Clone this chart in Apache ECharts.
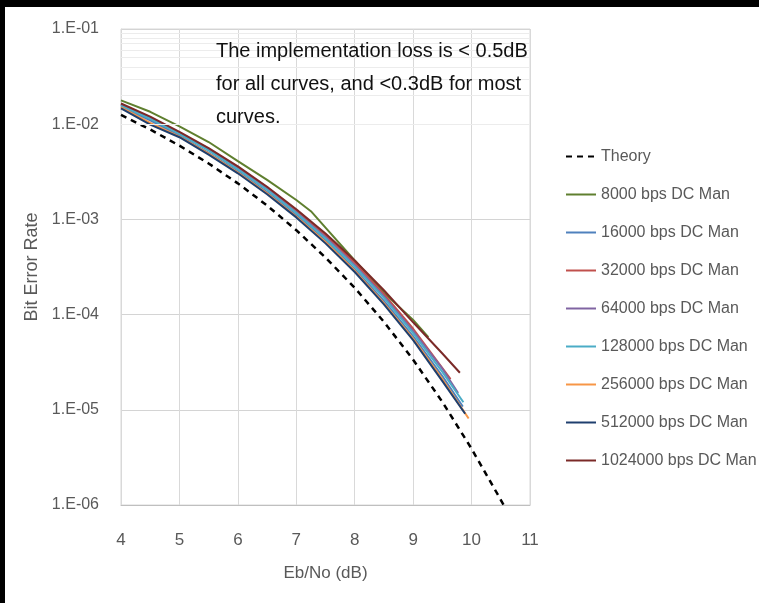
<!DOCTYPE html>
<html>
<head>
<meta charset="UTF-8">
<title>Bit Error Rate vs Eb/No</title>
<script src="https://cdn.jsdelivr.net/npm/echarts@6/dist/echarts.min.js"></script>
<style>
    body { margin: 0; background: #000; }
    #chart { position: absolute; left: 5px; top: 7px; width: 754px; height: 596px; background: #fff; }
</style>
</head>
<body>
<div id="chart"></div>
<script>
    // Eb/No (dB) points and bit error rates
    const theoryX = [4, 4.5, 5, 5.5, 6, 6.5, 7, 7.5, 8, 8.5, 9, 9.5, 10, 10.55];
    const theoryY = [1.25e-2, 8.8e-3, 5.95e-3, 3.87e-3, 2.39e-3, 1.40e-3, 7.7e-4, 3.98e-4, 1.91e-4, 8.4e-5, 3.36e-5, 1.21e-5, 3.9e-6, 1.0e-6];

    const x8000 = [4, 4.5, 5, 5.5, 6, 6.5, 7, 7.25, 7.5, 8, 8.5, 9, 9.26];
    const y8000 = [1.78e-2, 1.35e-2, 9.5e-3, 6.5e-3, 4.1e-3, 2.6e-3, 1.6e-3, 1.22e-3, 8.2e-4, 3.7e-4, 1.7e-4, 8.8e-5, 5.8e-5];

    const x16000 = [4, 4.5, 5, 5.5, 6, 6.5, 7, 7.5, 8, 8.5, 9, 9.5, 9.85];
    const y16000 = [1.52e-2, 1.1e-2, 7.6e-3, 5.0e-3, 3.2e-3, 1.94e-3, 1.11e-3, 6.0e-4, 3.0e-4, 1.39e-4, 5.9e-5, 2.26e-5, 1.08e-5];

    const x32000 = [4, 4.5, 5, 5.5, 6, 6.5, 7, 7.5, 8, 8.5, 9, 9.5, 9.64];
    const y32000 = [1.62e-2, 1.17e-2, 8.1e-3, 5.5e-3, 3.53e-3, 2.16e-3, 1.25e-3, 6.8e-4, 3.5e-4, 1.64e-4, 7.1e-5, 2.75e-5, 2.1e-5];

    const x64000 = [4, 4.5, 5, 5.5, 6, 6.5, 7, 7.5, 8, 8.5, 9, 9.5, 9.77];
    const y64000 = [1.6e-2, 1.15e-2, 8.0e-3, 5.4e-3, 3.4e-3, 2.08e-3, 1.19e-3, 6.5e-4, 3.3e-4, 1.55e-4, 6.7e-5, 2.7e-5, 1.5e-5];

    const x128000 = [4, 4.5, 5, 5.5, 6, 6.5, 7, 7.5, 8, 8.5, 9, 9.5, 9.86];
    const y128000 = [1.57e-2, 1.14e-2, 7.9e-3, 5.3e-3, 3.35e-3, 2.05e-3, 1.17e-3, 6.3e-4, 3.2e-4, 1.5e-4, 6.4e-5, 2.5e-5, 1.2e-5];

    const x256000 = [4, 4.5, 5, 5.5, 6, 6.5, 7, 7.5, 8, 8.5, 9, 9.5, 9.95];
    const y256000 = [1.5e-2, 1.03e-2, 7.4e-3, 4.9e-3, 3.1e-3, 1.88e-3, 1.07e-3, 5.8e-4, 2.9e-4, 1.32e-4, 5.6e-5, 2.1e-5, 8.1e-6];

    const x512000 = [4, 4.5, 5, 5.5, 6, 6.5, 7, 7.5, 8, 8.5, 9, 9.5, 9.89];
    const y512000 = [1.47e-2, 9.9e-3, 7.3e-3, 4.8e-3, 3.05e-3, 1.84e-3, 1.05e-3, 5.6e-4, 2.8e-4, 1.28e-4, 5.4e-5, 2.0e-5, 9.1e-6];

    const x1024000 = [4, 4.5, 5, 5.5, 6, 6.5, 7, 7.5, 8, 8.5, 9, 9.5, 9.8];
    const y1024000 = [1.65e-2, 1.2e-2, 8.3e-3, 5.6e-3, 3.6e-3, 2.2e-3, 1.28e-3, 7.1e-4, 3.7e-4, 1.8e-4, 8.3e-5, 3.9e-5, 2.45e-5];

    const yTickLabels = ['1.E-06', '1.E-05', '1.E-04', '1.E-03', '1.E-02', '1.E-01'];
    const minorMultipliers = [2, 3, 4, 5, 6, 7, 8, 9];
    const decades = [1e-6, 1e-5, 1e-4, 1e-3, 1e-2];

    const font = '"Liberation Sans", Arial, sans-serif';

    function pairs(xs, ys) {
        return xs.map((x, i) => [x, ys[i]]);
    }

    const minorLines = [];
    decades.forEach(d => minorMultipliers.forEach(m => minorLines.push({ yAxis: d * m })));

    const curves = [
        { name: '8000 bps DC Man', color: '#5f7f2f', x: x8000, y: y8000 },
        { name: '16000 bps DC Man', color: '#4f81bd', x: x16000, y: y16000 },
        { name: '32000 bps DC Man', color: '#c0504d', x: x32000, y: y32000 },
        { name: '64000 bps DC Man', color: '#8064a2', x: x64000, y: y64000 },
        { name: '128000 bps DC Man', color: '#4bacc6', x: x128000, y: y128000 },
        { name: '256000 bps DC Man', color: '#f79646', x: x256000, y: y256000 },
        { name: '512000 bps DC Man', color: '#1f3f6e', x: x512000, y: y512000 },
        { name: '1024000 bps DC Man', color: '#7b2a28', x: x1024000, y: y1024000 }
    ];

    const series = [
        {
            name: 'minor',
            type: 'line',
            data: [],
            z: 1,
            silent: true,
            markLine: {
                silent: true,
                symbol: 'none',
                label: { show: false },
                lineStyle: { color: '#ececec', type: 'solid', width: 1 },
                data: minorLines
            }
        },
        {
            name: 'Theory',
            type: 'line',
            z: 3,
            symbol: 'none',
            data: pairs(theoryX, theoryY),
            lineStyle: { color: '#000', width: 2.5, type: [6, 5] },
            itemStyle: { color: '#000' }
        }
    ];
    curves.forEach(c => series.push({
        name: c.name,
        type: 'line',
        z: 3,
        symbol: 'none',
        data: pairs(c.x, c.y),
        lineStyle: { color: c.color, width: 2 },
        itemStyle: { color: c.color }
    }));

    const chart = echarts.init(document.getElementById('chart'));
    chart.setOption({
        backgroundColor: '#fff',
        animation: false,
        grid: { left: 116, top: 22, width: 409, height: 476, show: true, borderColor: '#d9d9d9', borderWidth: 1 },
        xAxis: {
            type: 'value',
            min: 4,
            max: 11,
            interval: 1,
            name: 'Eb/No (dB)',
            nameLocation: 'middle',
            nameGap: 60,
            nameTextStyle: { fontFamily: font, fontSize: 17, color: '#595959' },
            axisLine: { lineStyle: { color: '#bfbfbf' } },
            axisTick: { show: false },
            axisLabel: { fontFamily: font, fontSize: 17, color: '#595959', margin: 27 },
            splitLine: { lineStyle: { color: '#d9d9d9' } }
        },
        yAxis: {
            type: 'log',
            logBase: 10,
            min: 1e-6,
            max: 1e-1,
            splitNumber: 5,
            name: 'Bit Error Rate',
            nameLocation: 'middle',
            nameGap: 80,
            nameTextStyle: { fontFamily: font, fontSize: 18, color: '#595959' },
            axisLine: { show: true, lineStyle: { color: '#d9d9d9' } },
            axisTick: { show: false },
            axisLabel: {
                fontFamily: font,
                fontSize: 16,
                color: '#595959',
                margin: 22,
                formatter: v => yTickLabels[Math.round(Math.log10(v)) + 6]
            },
            splitLine: { lineStyle: { color: '#d4d4d4' } }
        },
        legend: {
            orient: 'vertical',
            left: 555,
            top: 135,
            itemWidth: 30,
            itemHeight: 19,
            itemGap: 19,
            itemStyle: { opacity: 0 },
            data: ['Theory'].concat(curves.map(c => c.name)),
            textStyle: { fontFamily: font, fontSize: 16, color: '#595959', lineHeight: 19 }
        },
        graphic: [{
            type: 'text',
            left: 211,
            top: 28,
            z: 10,
            style: {
                text: 'The implementation loss is < 0.5dB\nfor all curves, and <0.3dB for most\ncurves.',
                font: '20px ' + font,
                fill: '#111',
                lineHeight: 33
            }
        }],
        series: series
    });
</script>
</body>
</html>
